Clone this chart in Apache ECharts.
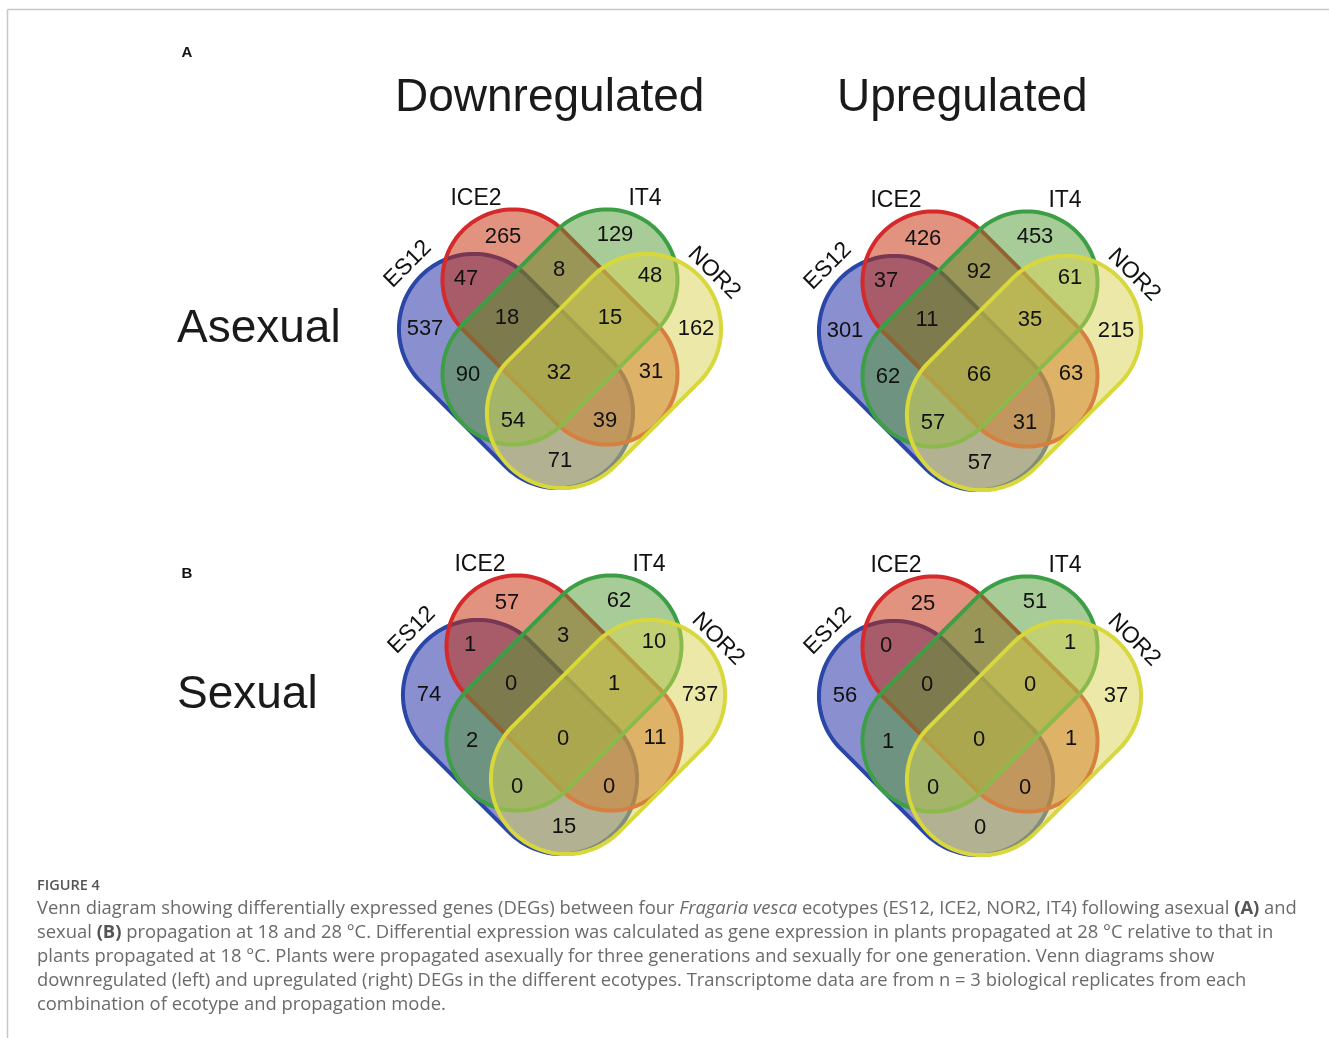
<!DOCTYPE html>
<html>
<head>
<meta charset="utf-8">
<script src="https://cdn.jsdelivr.net/npm/echarts@6/dist/echarts.min.js"></script>
<style>
  html, body { margin: 0; padding: 0; background: #ffffff; }
  #chart { width: 1329px; height: 1038px; }
</style>
</head>
<body>
<div id="chart"></div>
<script>
// ---- data ----------------------------------------------------------------
const setNames = ['ES12', 'ICE2', 'IT4', 'NOR2'];
// order of the 15 Venn regions used by every count array below
const regionNames = [
  'ES12', 'ICE2', 'IT4', 'NOR2',
  'ES12∩ICE2', 'ICE2∩IT4', 'IT4∩NOR2',
  'ES12∩ICE2∩IT4', 'ICE2∩IT4∩NOR2', 'ES12∩ICE2∩IT4∩NOR2',
  'ES12∩IT4', 'ICE2∩NOR2',
  'ES12∩IT4∩NOR2', 'ES12∩ICE2∩NOR2', 'ES12∩NOR2'
];
const asexualDown = [537, 265, 129, 162, 47, 8, 48, 18, 15, 32, 90, 31, 54, 39, 71];
const asexualUp   = [301, 426, 453, 215, 37, 92, 61, 11, 35, 66, 62, 63, 57, 31, 57];
const sexualDown  = [74, 57, 62, 737, 1, 3, 10, 0, 1, 0, 2, 11, 0, 0, 15];
const sexualUp    = [56, 25, 51, 37, 0, 1, 1, 0, 0, 0, 1, 1, 0, 0, 0];
const columnTitles = ['Downregulated', 'Upregulated'];
const rowTitles = ['Asexual', 'Sexual'];
const panelLetters = ['A', 'B'];

// ---- layout (Venn units, y up, origin at the shared centre of the inner ovals)
const ovals = [
  { cx: -44, cy: -44, angle: -Math.PI / 4, len: 269, wid: 150, stroke: '#2a46a6', fill: 'rgba(21,31,161,0.5)' },
  { cx: 0,   cy: 0,   angle: -Math.PI / 4, len: 274, wid: 141, stroke: '#d42a2c', fill: 'rgba(197,39,0,0.5)' },
  { cx: 0,   cy: 0,   angle:  Math.PI / 4, len: 274, wid: 141, stroke: '#3d9f45', fill: 'rgba(81,153,49,0.5)' },
  { cx: 44,  cy: -44, angle:  Math.PI / 4, len: 269, wid: 150, stroke: '#d8d73c', fill: 'rgba(217,211,81,0.5)' }
];
const regionAnchors = [
  [-135, 0], [-57, 92], [55, 94], [136, 0],
  [-94, 50], [-1, 59], [90, 53],
  [-53, 11], [50, 11], [-1, -44],
  [-92, -46], [91, -43],
  [-47, -92], [45, -92], [0, -132]
];
const nameAnchors = [[-152, 65, Math.PI / 4], [-84, 130, 0], [85, 130, 0], [154, 56, -Math.PI / 4]];

const panels = [
  { values: asexualDown, cx: 560, cy: 327 },
  { values: asexualUp,   cx: 980, cy: 329 },
  { values: sexualDown,  cx: 564, cy: 693 },
  { values: sexualUp,    cx: 980, cy: 694 }
];

const NUM_FONT = '22px "Liberation Sans", Arial, sans-serif';
const NAME_FONT = '23px "Liberation Sans", Arial, sans-serif';
const TEXT_NUDGE = 2; // canvas 'middle' sits a little above the digit centre

// outline of a stadium-shaped oval, in Venn units
function capsule(o) {
  const r = o.wid / 2, h = o.len / 2 - r;
  const ux = Math.cos(o.angle), uy = Math.sin(o.angle);
  const vx = -uy, vy = ux;
  const pts = [];
  const n = 60;
  for (let i = 0; i <= n; i++) {
    const t = -Math.PI / 2 + Math.PI * i / n;
    const c = Math.cos(t), s = Math.sin(t);
    pts.push([o.cx + ux * h + r * (c * ux + s * vx), o.cy + uy * h + r * (c * uy + s * vy)]);
  }
  for (let i = 0; i <= n; i++) {
    const t = Math.PI / 2 + Math.PI * i / n;
    const c = Math.cos(t), s = Math.sin(t);
    pts.push([o.cx - ux * h + r * (c * ux + s * vx), o.cy - uy * h + r * (c * uy + s * vy)]);
  }
  return pts;
}

const grid = [], xAxis = [], yAxis = [], series = [];
panels.forEach((p, i) => {
  grid.push({ left: p.cx - 200, top: p.cy - 160, width: 400, height: 320 });
  xAxis.push({ type: 'value', gridIndex: i, min: -200, max: 200, show: false });
  yAxis.push({ type: 'value', gridIndex: i, min: -160, max: 160, show: false });

  series.push({
    type: 'custom', name: 'sets', xAxisIndex: i, yAxisIndex: i, silent: true, clip: false, z: 2,
    encode: { x: 0, y: 1 },
    data: ovals.map((o, k) => [o.cx, o.cy, k]),
    renderItem: (params, api) => {
      const o = ovals[api.value(2)];
      const pts = capsule(o).map(q => api.coord(q));
      return {
        type: 'polygon', shape: { points: pts },
        style: { fill: o.fill, stroke: o.stroke, lineWidth: 4 }
      };
    }
  });

  series.push({
    type: 'custom', name: 'counts', xAxisIndex: i, yAxisIndex: i, silent: true, clip: false, z: 3,
    encode: { x: 0, y: 1 },
    data: p.values.map((v, j) => [regionAnchors[j][0], regionAnchors[j][1], v]),
    renderItem: (params, api) => {
      const pt = api.coord([api.value(0), api.value(1)]);
      return {
        type: 'text', x: pt[0], y: pt[1] + TEXT_NUDGE,
        style: { text: String(api.value(2)), font: NUM_FONT, fill: '#111', align: 'center', verticalAlign: 'middle' }
      };
    }
  });

  series.push({
    type: 'custom', name: 'names', xAxisIndex: i, yAxisIndex: i, silent: true, clip: false, z: 3,
    encode: { x: 0, y: 1 },
    data: nameAnchors.map(a => [a[0], a[1]]),
    renderItem: (params, api) => {
      const pt = api.coord([api.value(0), api.value(1)]);
      return {
        type: 'text', x: pt[0], y: pt[1] + TEXT_NUDGE, rotation: nameAnchors[params.dataIndex][2],
        style: { text: setNames[params.dataIndex], font: NAME_FONT, fill: '#111', align: 'center', verticalAlign: 'middle' }
      };
    }
  });
});

// ---- frame, headings and caption ----------------------------------------
const CAP_SIZE = 18.4;
const CAP_FAMILY = '"Open Sans", "Noto Sans", sans-serif';
const CAP_COLOR = '#6a6a6a';
const capRich = {
  i: { font: 'italic ' + CAP_SIZE + 'px ' + CAP_FAMILY, fill: CAP_COLOR },
  b: { font: 'bold ' + CAP_SIZE + 'px ' + CAP_FAMILY, fill: '#555' }
};
const captionLines = [
  'Venn diagram showing differentially expressed genes (DEGs) between four {i|Fragaria vesca} ecotypes (ES12, ICE2, NOR2, IT4) following asexual {b|(A)} and',
  'sexual {b|(B)} propagation at 18 and 28 °C. Differential expression was calculated as gene expression in plants propagated at 28 °C relative to that in',
  'plants propagated at 18 °C. Plants were propagated asexually for three generations and sexually for one generation. Venn diagrams show',
  'downregulated (left) and upregulated (right) DEGs in the different ecotypes. Transcriptome data are from n = 3 biological replicates from each',
  'combination of ecotype and propagation mode.'
];

const HEAD_FONT = '46px "Liberation Sans", Arial, sans-serif';
const graphic = [
  { type: 'line', shape: { x1: 7.5, y1: 9.5, x2: 1329, y2: 9.5 }, style: { stroke: '#c8c8c8', lineWidth: 1.5 } },
  { type: 'line', shape: { x1: 7.5, y1: 9.5, x2: 7.5, y2: 1038 }, style: { stroke: '#c8c8c8', lineWidth: 1.5 } },
  { type: 'text', x: 187, y: 53, style: { text: panelLetters[0], font: 'bold 15px "Liberation Sans", Arial, sans-serif', fill: '#111', align: 'center', verticalAlign: 'middle' } },
  { type: 'text', x: 187, y: 574, style: { text: panelLetters[1], font: 'bold 15px "Liberation Sans", Arial, sans-serif', fill: '#111', align: 'center', verticalAlign: 'middle' } },
  { type: 'text', x: 395, y: 98, style: { text: columnTitles[0], font: HEAD_FONT, fill: '#1a1a1a', align: 'left', verticalAlign: 'middle' } },
  { type: 'text', x: 837, y: 98, style: { text: columnTitles[1], font: HEAD_FONT, fill: '#1a1a1a', align: 'left', verticalAlign: 'middle' } },
  { type: 'text', x: 177, y: 329, style: { text: rowTitles[0], font: HEAD_FONT, fill: '#1a1a1a', align: 'left', verticalAlign: 'middle' } },
  { type: 'text', x: 177, y: 695, style: { text: rowTitles[1], font: HEAD_FONT, fill: '#1a1a1a', align: 'left', verticalAlign: 'middle' } },
  { type: 'text', x: 37, y: 886, style: { text: 'FIGURE 4', font: '600 14.5px ' + CAP_FAMILY, fill: '#555', align: 'left', verticalAlign: 'middle' } }
];
captionLines.forEach((line, k) => {
  graphic.push({
    type: 'text', x: 37, y: 909 + k * 24,
    style: { text: line, font: CAP_SIZE + 'px ' + CAP_FAMILY, fill: CAP_COLOR, rich: capRich, align: 'left', verticalAlign: 'middle' }
  });
});

const chart = echarts.init(document.getElementById('chart'), null, { renderer: 'canvas' });
chart.setOption({
  backgroundColor: '#ffffff',
  animation: false,
  grid, xAxis, yAxis, series, graphic
});
</script>
</body>
</html>
